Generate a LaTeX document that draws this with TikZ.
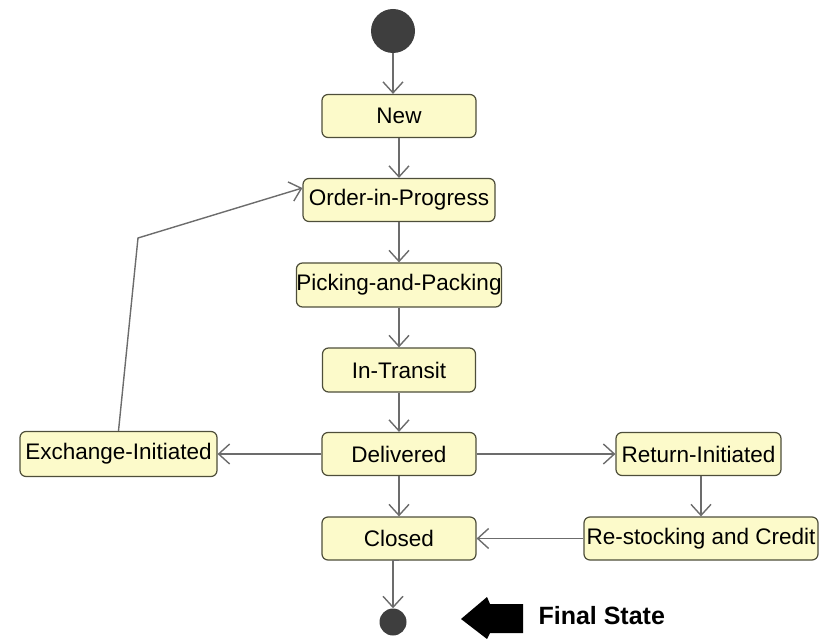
\documentclass[tikz,border=0pt]{standalone}
\usepackage{fontspec}
\setmainfont{Liberation Sans}
\usetikzlibrary{arrows.meta}
\definecolor{statefill}{RGB}{252,250,202}
\definecolor{stateline}{RGB}{78,78,58}
\definecolor{transline}{RGB}{108,108,108}
\definecolor{dotfill}{RGB}{62,62,62}
\tikzset{
  state/.style={draw=stateline,fill=statefill,line width=1.2pt,rounded corners=6pt,
    minimum height=43pt,inner sep=0pt,font=\fontsize{22.5}{25}\selectfont},
  trans/.style={draw=transline,line width=1.4pt,-{Straight Barb[length=11pt,width=20pt,line width=1.4pt]}},
  dot/.style={circle,fill=dotfill,inner sep=0pt}
}
\begin{document}
\begin{tikzpicture}[x=1pt,y=-1pt]
	\useasboundingbox (0,0) rectangle (828,639);
	% start and end points
	\node[dot,minimum size=44pt] (init) at (393,31) {};
	\node[dot,minimum size=27pt] (final) at (393,622) {};
	% states
	\node[state,minimum width=154pt] (new) at (399,116) {New};
	\node[state,minimum width=192pt] (oip) at (399,200) {Order-in-Progress};
	\node[state,minimum width=196pt,minimum height=44pt] (pp) at (399,285) {Picking-and-Packing};
	\node[state,minimum width=153pt,minimum height=44pt] (it) at (399,370) {In-Transit};
	\node[state,minimum width=154pt] (del) at (399,454) {Delivered};
	\node[state,minimum width=197pt,minimum height=45pt] (exch) at (118.5,454) {Exchange-Initiated};
	\node[state,minimum width=165pt] (ret) at (698.5,454) {Return-Initiated};
	\node[state,minimum width=154pt] (closed) at (399,538.5) {Closed};
	\node[state,minimum width=234pt] (rest) at (701,538.5) {Re-stocking and Credit};
	\coordinate (bend) at (138,238);
	% transitions
	\draw[trans] (init) -- (init |- new.north);
	\foreach \a/\b in {new/oip,oip/pp,pp/it,it/del,del/closed}{\draw[trans] (\a.south) -- (\b.north);}
	\draw[trans] (closed.south) -- (closed.south -| final) -- (final.north);
	\draw[trans] (del.west) -- (exch.east);
	\draw[trans] (del.east) -- (ret.west);
	\draw[trans] (ret.south -| rest.north) -- (rest.north);
	\draw[trans] (rest.west) -- (closed.east);
	\draw[trans] (exch.north) -- (bend) -- ([yshift=12pt]oip.west);
	% label of the end point
	\fill (461,619) -- (487,597) -- (490,604) -- (523,604) -- (523,633) -- (490,633) -- (487,639) -- cycle;
	\node[anchor=west,font=\fontsize{25}{28}\selectfont\bfseries] (lbl) at (535,616) {Final State};
\end{tikzpicture}
\end{document}
